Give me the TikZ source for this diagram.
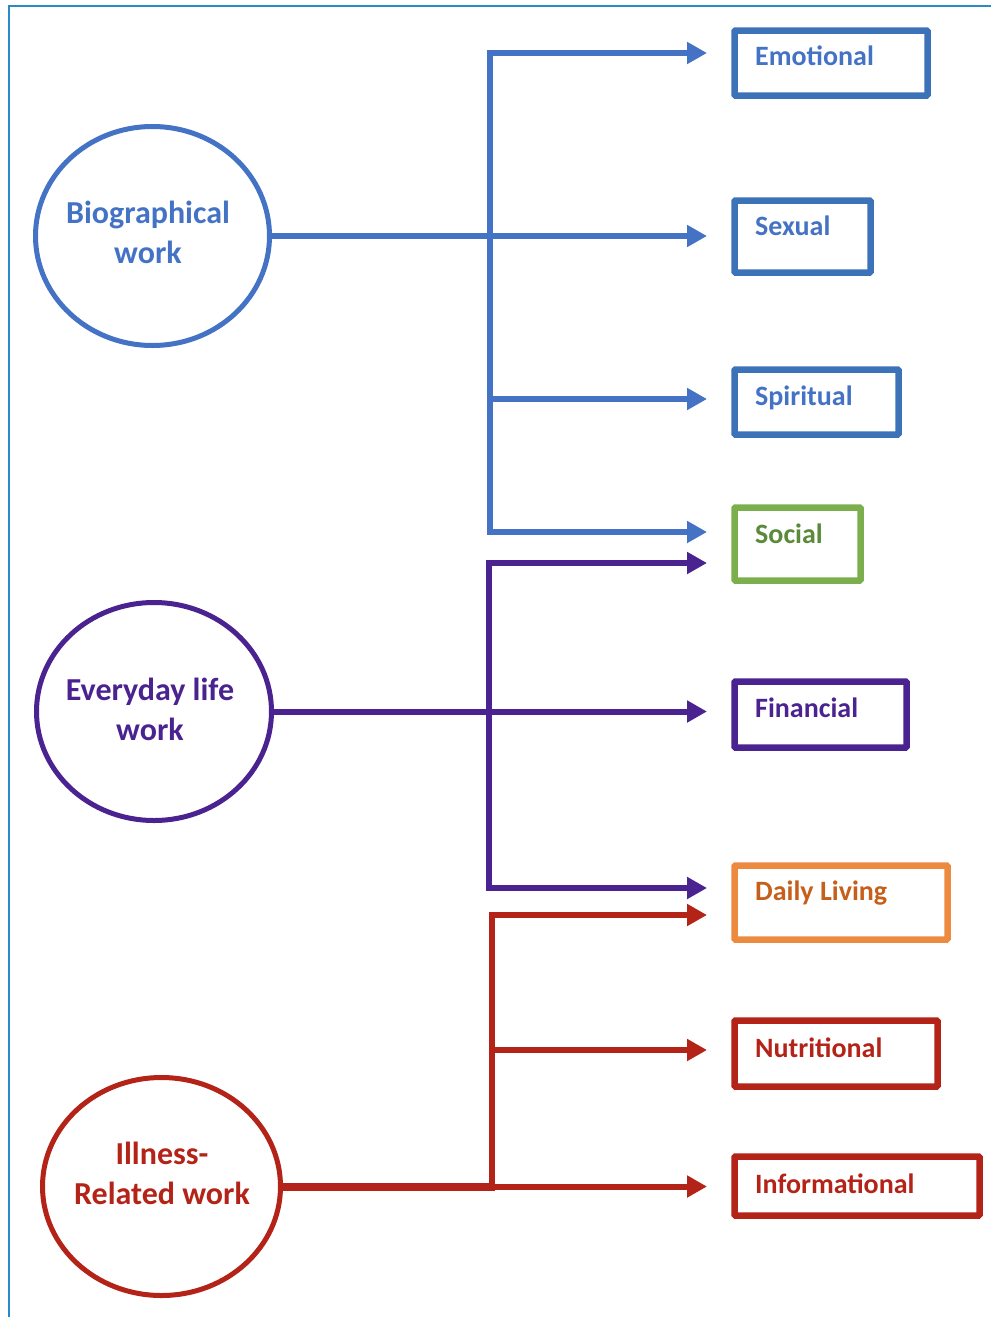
\documentclass[tikz,border=0pt]{standalone}
\usepackage{fontspec}
\setmainfont{Carlito}
\usetikzlibrary{arrows.meta,shapes.geometric}
\definecolor{frameblue}{HTML}{2A8AC8}
\definecolor{cblue}{HTML}{4472C4}
\definecolor{cboxblue}{HTML}{3C72B8}
\definecolor{cgreenbox}{HTML}{7BAF4E}
\definecolor{cgreentxt}{HTML}{5A8A3A}
\definecolor{cpurple}{HTML}{4A2390}
\definecolor{corangebox}{HTML}{EC8A40}
\definecolor{corangetxt}{HTML}{C55F1A}
\definecolor{cred}{HTML}{B42318}
\tikzset{
  circ/.style={ellipse,draw,line width=5pt,inner sep=0pt},
  circtext/.style={inner sep=0pt,align=center,font=\fontsize{32}{40}\selectfont\bfseries},
  catbox/.style={rectangle,draw,line width=6.5pt,inner sep=0pt,rounded corners=1pt},
  cattext/.style={anchor=base west,inner sep=0pt,font=\fontsize{28}{34}\selectfont\bfseries},
  conn/.style={line width=6pt,line join=miter},
  arr/.style={conn,-{Triangle[length=20pt,width=21pt]}},
  darr/.style={conn,{Triangle[length=20pt,width=21pt]}-{Triangle[length=20pt,width=21pt]}},
}
\begin{document}
\begin{tikzpicture}[x=1pt,y=-1pt]
\useasboundingbox (0,0) rectangle (991,1317);
% frame (top and left edges)
\draw[frameblue,line width=2pt] (9,1317) -- (9,6) -- (991,6);

% circles
\node[circ,cblue,minimum width=234pt,minimum height=219pt] (bio) at (152.5,236) {};
\node[circ,cpurple,minimum width=235pt,minimum height=218pt] (eve) at (154,711.5) {};
\node[circ,cred,minimum width=238pt,minimum height=218pt] (ill) at (161.5,1186.5) {};
\node[circtext,cblue] (bioT) at (148,232) {Biographical\\work};
\node[circtext,cpurple] (eveT) at (150,709) {Everyday life\\work};
\node[circtext,cred] (illT) at (162,1173) {Illness-\\Related work};

% boxes (outer extents minus line width)
\node[catbox,cboxblue,minimum width=193pt,minimum height=65pt] (emo) at (831,63) {};
\node[catbox,cboxblue,minimum width=136pt,minimum height=72pt] (sex) at (802.5,236.5) {};
\node[catbox,cboxblue,minimum width=164pt,minimum height=65pt] (spi) at (816.5,402) {};
\node[catbox,cgreenbox,minimum width=126pt,minimum height=73pt] (soc) at (797.5,544) {};
\node[catbox,cpurple,minimum width=172pt,minimum height=66pt] (fin) at (820.5,714.5) {};
\node[catbox,corangebox,minimum width=213pt,minimum height=74pt] (dai) at (841,902.5) {};
\node[catbox,cred,minimum width=203pt,minimum height=66pt] (nut) at (836,1053.5) {};
\node[catbox,cred,minimum width=245pt,minimum height=59pt] (inf) at (857,1186) {};

% box labels
\node[cattext,cblue] (emoL) at (755,65) {Emotional};
\node[cattext,cblue] (sexL) at (755,235) {Sexual};
\node[cattext,cblue] (spiL) at (755,405) {Spiritual};
\node[cattext,cgreentxt] (socL) at (755,543) {Social};
\node[cattext,cpurple] (finL) at (755,717) {Financial};
\node[cattext,corangetxt] (daiL) at (755,900) {Daily Living};
\node[cattext,cred] (nutL) at (755,1057) {Nutritional};
\node[cattext,cred] (infL) at (755,1193) {Informational};

% arrow tips and trunk corners
\coordinate (tEmo) at (707,53);
\coordinate (tSex) at (707,236);
\coordinate (tSpi) at (707,399);
\coordinate (tSoc1) at (707,532);
\coordinate (tSoc2) at (707,563);
\coordinate (tFin) at (707,711.5);
\coordinate (tDai1) at (707,888);
\coordinate (tDai2) at (707,915);
\coordinate (tNut) at (707,1050);
\coordinate (tInf) at (707,1186.5);

\coordinate (b1) at (490,53);
\coordinate (b2) at (490,532);
\coordinate (b3) at (490,399);
\coordinate (p1) at (489,563);
\coordinate (p2) at (489,888);
\coordinate (r1) at (492,915);
\coordinate (r2) at (492,1186.5);
\coordinate (r3) at (492,1050);

% blue connectors
\draw[darr,cblue] (tEmo) -- (b1) -- (b2) -- (tSoc1);
\draw[arr,cblue] (b3) -- (tSpi);
\draw[arr,cblue] (bio.east) -- (tSex);

% purple connectors
\draw[darr,cpurple] (tSoc2) -- (p1) -- (p2) -- (tDai1);
\draw[arr,cpurple] (eve.east) -- (tFin);

% red connectors
\draw[cred,conn,-{Triangle[length=20pt,width=21pt]}] (r2) -- (r1) -- (tDai2);
\draw[arr,cred] (r3) -- (tNut);
\draw[cred,line width=8pt] (ill.east) -- ([xshift=3pt]r2);
\draw[arr,cred] (r2) -- (tInf);
\end{tikzpicture}
\end{document}
